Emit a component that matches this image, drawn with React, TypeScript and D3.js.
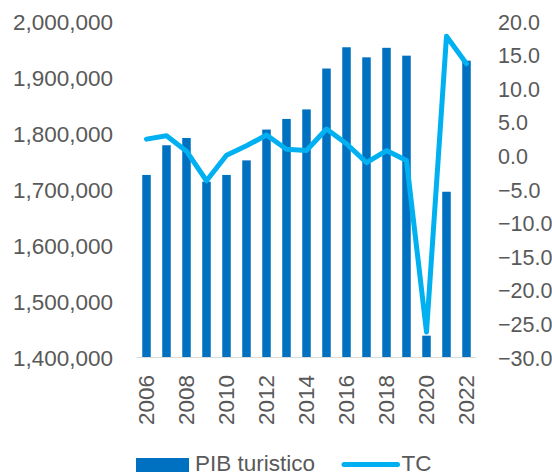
import React from "react";
import * as d3 from "d3";

const years = [2006, 2007, 2008, 2009, 2010, 2011, 2012, 2013, 2014, 2015, 2016, 2017, 2018, 2019, 2020, 2021, 2022];
const pibTuristico = [1726000, 1779000, 1792000, 1714000, 1726000, 1752000, 1807000, 1826000, 1843000, 1916000, 1954000, 1936000, 1953000, 1939000, 1439000, 1696000, 1930000];
const tc = [2.5, 3.0, 0.7, -3.7, 0.1, 1.5, 3.1, 1.0, 0.8, 4.0, 1.8, -1.0, 0.8, -0.7, -26.2, 17.8, 13.7];
const leftTicks = [1400000, 1500000, 1600000, 1700000, 1800000, 1900000, 2000000];
const rightTicks = [-30, -25, -20, -15, -10, -5, 0, 5, 10, 15, 20];
const xLabelYears = [2006, 2008, 2010, 2012, 2014, 2016, 2018, 2020, 2022];

const W = 552;
const H = 472;
const font = "'Liberation Sans', Arial, sans-serif";
const textColor = "#595959";
const barColor = "#0070C0";
const lineColor = "#00B0F0";

export default function App() {
  const x = d3
    .scaleBand<number>()
    .domain(years)
    .range([136.5, 476.5])
    .paddingInner(0.575)
    .paddingOuter(0.2875);
  const yL = d3.scaleLinear().domain([1400000, 2000000]).range([357.5, 21.5]);
  const yR = d3.scaleLinear().domain([-30, 20]).range([357.5, 21.5]);
  const fmt = d3.format(",");
  const fmtR = d3.format(".1f");
  const cx = (yr: number) => (x(yr) as number) + x.bandwidth() / 2;

  const line = d3
    .line<number>()
    .x((_, i) => cx(years[i]))
    .y((d) => yR(d));

  return (
    <svg
      width={W}
      height={H}
      style={{ position: "absolute", left: 0, top: 0 }}
      fontFamily={font}
    >
      <rect x={0} y={0} width={W} height={H} fill="#ffffff" />
      {years.map((yr, i) => (
        <rect
          key={yr}
          x={x(yr)}
          y={yL(pibTuristico[i])}
          width={x.bandwidth()}
          height={yL(1400000) - yL(pibTuristico[i])}
          fill={barColor}
        />
      ))}
      <line x1={136.5} x2={476.5} y1={357.5} y2={357.5} stroke="#d9d9d9" strokeWidth={1} />
      <path
        d={line(tc) || ""}
        fill="none"
        stroke={lineColor}
        strokeWidth={5}
        strokeLinejoin="round"
        strokeLinecap="round"
      />
      {leftTicks.map((t) => (
        <text key={t} x={113} y={yL(t) + 8} textAnchor="end" fontSize={22.5} fill={textColor}>
          {fmt(t)}
        </text>
      ))}
      {rightTicks.map((t) => (
        <text key={t} x={498} y={yR(t) + 8} textAnchor="start" fontSize={21.5} fill={textColor}>
          {fmtR(t)}
        </text>
      ))}
      {xLabelYears.map((yr) => (
        <text
          key={yr}
          transform={`translate(${cx(yr)},375) rotate(-90)`}
          textAnchor="end"
          dy="0.35em"
          fontSize={22.5}
          fill={textColor}
        >
          {yr}
        </text>
      ))}
      <rect x={136} y={458} width={53} height={20} fill={barColor} />
      <text x={195} y={471} fontSize={22.5} fill={textColor}>
        PIB turistico
      </text>
      <line x1={344} x2={397.5} y1={464.5} y2={464.5} stroke={lineColor} strokeWidth={5} strokeLinecap="round" />
      <text x={401.5} y={471} fontSize={22.5} fill={textColor}>
        TC
      </text>
    </svg>
  );
}
